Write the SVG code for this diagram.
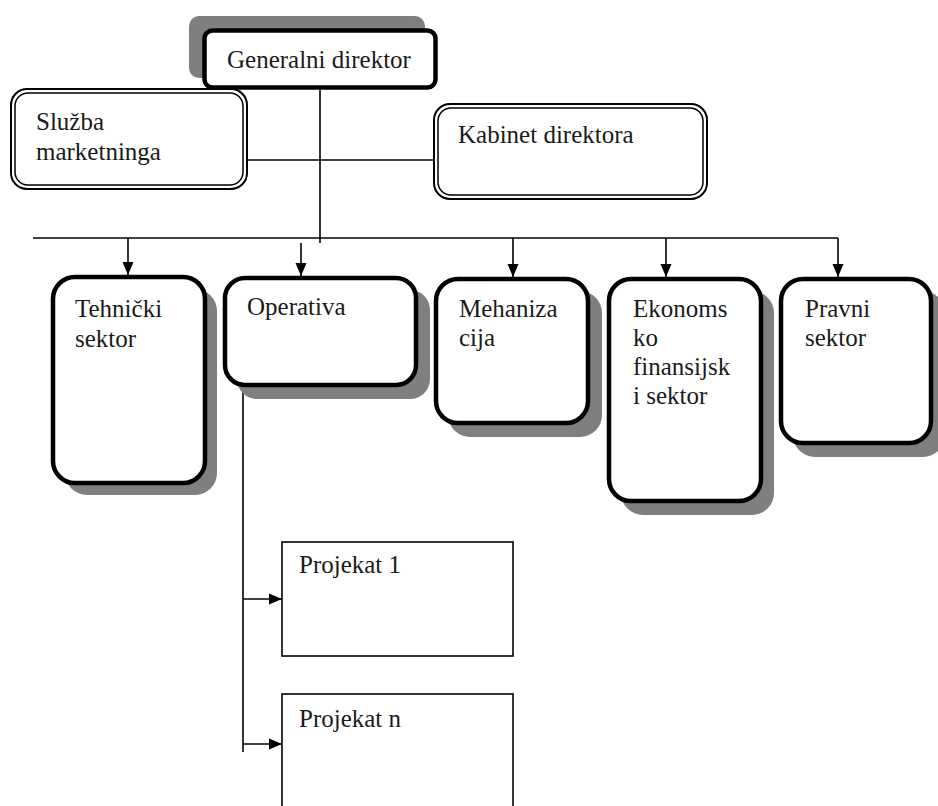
<svg xmlns="http://www.w3.org/2000/svg" width="938" height="806" viewBox="0 0 938 806">
  <style>
    text { font-family: "Liberation Serif", Tinos, "Times New Roman", "DejaVu Serif", serif; font-size: 25px; fill: #1a1a1a; }
    .shadow { fill: #7f7f7f; }
    .thick { fill: #ffffff; stroke: #000000; stroke-width: 4.5; }
    .dbl-out { fill: #ffffff; stroke: #000000; stroke-width: 2; }
    .dbl-in { fill: none; stroke: #000000; stroke-width: 1.5; }
    .plain { fill: #ffffff; stroke: #000000; stroke-width: 1.6; }
    .line { fill: none; stroke: #000000; stroke-width: 1.6; }
  </style>
  <defs>
    <marker id="arrow" markerUnits="userSpaceOnUse" markerWidth="14" markerHeight="14" viewBox="0 0 14 14" refX="13" refY="7" orient="auto">
      <path d="M0,1.5 L13,7 L0,12.5 Z" fill="#000000"/>
    </marker>
  </defs>

  <rect width="938" height="806" fill="#ffffff"/>

  <!-- connectors -->
  <g id="connectors">
    <line class="line" x1="320" y1="90" x2="320" y2="243"/>
    <line class="line" x1="248" y1="160" x2="433" y2="160"/>
    <line class="line" x1="33" y1="238" x2="838" y2="238"/>
    <line class="line" x1="128" y1="238" x2="128" y2="275" marker-end="url(#arrow)"/>
    <line class="line" x1="301" y1="243" x2="301" y2="276" marker-end="url(#arrow)"/>
    <line class="line" x1="513" y1="238" x2="513" y2="277" marker-end="url(#arrow)"/>
    <line class="line" x1="666" y1="238" x2="666" y2="277" marker-end="url(#arrow)"/>
    <line class="line" x1="838" y1="238" x2="838" y2="277" marker-end="url(#arrow)"/>
    <line class="line" x1="243" y1="387" x2="243" y2="752"/>
    <line class="line" x1="243" y1="599" x2="282" y2="599" marker-end="url(#arrow)"/>
    <line class="line" x1="243" y1="744" x2="282" y2="744" marker-end="url(#arrow)"/>
  </g>

  <!-- top -->
  <g id="generalni-direktor">
    <rect class="shadow" x="189" y="16" width="236" height="62" rx="10"/>
    <rect class="thick" x="204.5" y="30.5" width="231" height="57" rx="8" stroke-width="5"/>
    <text x="227" y="68">Generalni direktor</text>
  </g>

  <g id="sluzba-marketninga">
    <rect class="dbl-out" x="11" y="89" width="236" height="100" rx="16"/>
    <rect class="dbl-in" x="15" y="93" width="228" height="92" rx="13"/>
    <text x="36" y="130">Služba</text>
    <text x="36" y="160">marketninga</text>
  </g>

  <g id="kabinet-direktora">
    <rect class="dbl-out" x="434" y="104" width="273" height="95" rx="16"/>
    <rect class="dbl-in" x="438" y="108" width="265" height="87" rx="13"/>
    <text x="458" y="143">Kabinet direktora</text>
  </g>

  <!-- sectors -->
  <g id="tehnicki-sektor">
    <rect class="shadow" x="65" y="289" width="152" height="206" rx="22"/>
    <rect class="thick" x="53" y="277" width="152" height="206" rx="22"/>
    <text x="75" y="317">Tehnički</text>
    <text x="75" y="347">sektor</text>
  </g>

  <g id="operativa">
    <rect class="shadow" x="237" y="290" width="193" height="109" rx="20"/>
    <rect class="thick" x="225" y="278" width="191" height="107" rx="20"/>
    <text x="247" y="315">Operativa</text>
  </g>

  <g id="mehanizacija">
    <rect class="shadow" x="448" y="291" width="154" height="146" rx="22"/>
    <rect class="thick" x="436" y="279" width="152" height="144" rx="22"/>
    <text x="459" y="317">Mehaniza</text>
    <text x="459" y="346">cija</text>
  </g>

  <g id="ekonomsko-finansijski-sektor">
    <rect class="shadow" x="621" y="291" width="153" height="224" rx="22"/>
    <rect class="thick" x="609" y="279" width="152" height="222" rx="22"/>
    <text x="633" y="317">Ekonoms</text>
    <text x="633" y="346">ko</text>
    <text x="633" y="375">finansijsk</text>
    <text x="633" y="404">i sektor</text>
  </g>

  <g id="pravni-sektor">
    <rect class="shadow" x="793" y="291" width="152" height="166" rx="22"/>
    <rect class="thick" x="781" y="279" width="150" height="164" rx="22"/>
    <text x="805" y="317">Pravni</text>
    <text x="805" y="346">sektor</text>
  </g>

  <!-- projects -->
  <g id="projekat-1">
    <rect class="plain" x="282" y="542" width="231" height="114"/>
    <text x="299" y="573">Projekat 1</text>
  </g>

  <g id="projekat-n">
    <rect class="plain" x="282" y="694" width="231" height="130"/>
    <text x="299" y="727">Projekat n</text>
  </g>
</svg>
